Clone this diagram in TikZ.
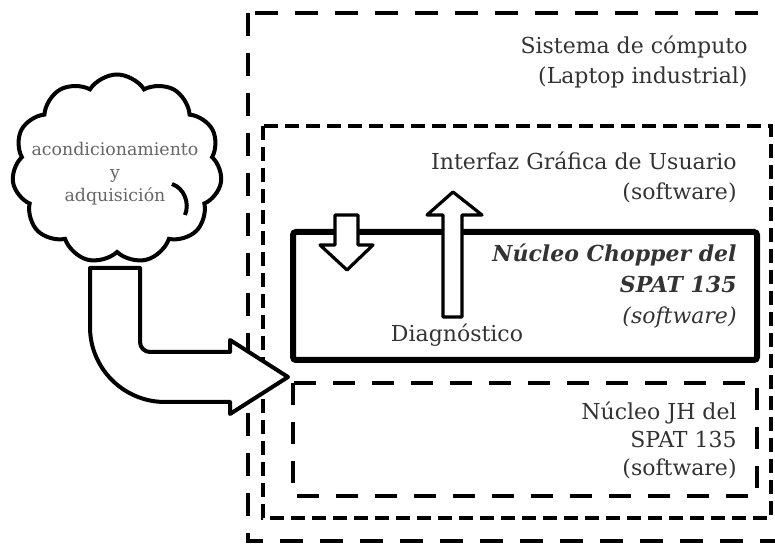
\documentclass[tikz,border=0pt]{standalone}
\usepackage{fontspec}
\setmainfont{DejaVu Serif}
\usetikzlibrary{shapes.symbols}
\tikzset{
  sysbox/.style={line width=2.2pt, dash pattern=on 11.5pt off 8.5pt},
  guibox/.style={line width=2pt, dash pattern=on 7pt off 3.5pt},
  jhbox/.style={line width=2pt, dash pattern=on 11pt off 8.5pt},
  corebox/.style={line width=3pt, rounded corners=1.5pt},
  blockarrow/.style={line width=1.6pt, fill=white, line join=round},
  lbl/.style={anchor=east, align=right, inner sep=0pt, text=black!80,
    font=\fontsize{11}{15}\selectfont}
}
\begin{document}
\begin{tikzpicture}[x=0.5pt,y=-0.5pt]
\useasboundingbox (0,0) rectangle (775,544);
% cajas
\draw[sysbox] (248,13) rectangle (795,541);
\draw[guibox] (263,126) rectangle (771,518);
\draw[jhbox] (293,383) rectangle (757,496);
\draw[corebox] (293,232) rectangle (757,360);
% nube
\node[cloud, draw, line width=2pt, cloud puffs=11, cloud puff arc=115, cloud ignores aspect,
  minimum width=105pt, minimum height=94.5pt] (acq) at (117,169) {};
\draw[line width=2pt] (172,184) .. controls (184,188) and (190,203) .. (185,215);
\node[align=center, text=black!60, font=\fontsize{8.7}{11.5}\selectfont] (acqtxt) at (115,174)
  {acondicionamiento\\y\\adquisición};
% flechas
\draw[blockarrow, line width=2pt] (90,268) -- (140,268) -- (140,342)
  arc[start angle=180, end angle=90, radius=10] -- (230,352) -- (230,340)
  -- (288,377) -- (230,414) -- (230,402) -- (165,402)
  arc[start angle=90, end angle=180, radius=75] -- cycle;
\draw[blockarrow] (335,215) -- (358,215) -- (358,245) -- (373,245) -- (347,270)
  -- (320,245) -- (335,245) -- cycle;
\draw[blockarrow] (443,317) -- (443,215) -- (427,215) -- (453,192) -- (482,215)
  -- (462,215) -- (462,317) -- cycle;
% textos
\node[lbl] (sys) at (748,62) {Sistema de cómputo\\(Laptop industrial)};
\node[lbl] (gui) at (737,177) {Interfaz Gráfica de Usuario\\(software)};
\node[lbl, font=\fontsize{11}{15.5}\selectfont] (core) at (737,286)
  {\textbf{\textit{Núcleo Chopper del}}\\\textbf{\textit{SPAT 135}}\\\textit{(software)}};
\node[lbl, font=\fontsize{11}{14}\selectfont] (jh) at (737,440) {Núcleo JH del\\SPAT 135\\(software)};
\node[text=black!80, inner sep=0pt, font=\fontsize{11}{15}\selectfont] (diag) at (457,335) {Diagnóstico};
\end{tikzpicture}
\end{document}
